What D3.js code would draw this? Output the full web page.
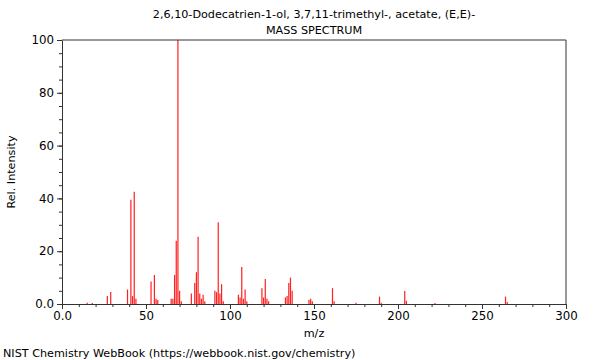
<!DOCTYPE html>
<html><head><meta charset="utf-8">
<script src="https://cdn.jsdelivr.net/npm/d3@7"></script>
<style>
body{margin:0;background:#fff;}
svg{display:block;font-family:"DejaVu Sans",sans-serif;}
</style></head>
<body><svg id="c" width="600" height="360"></svg>
<script>
const titleLines = ["2,6,10-Dodecatrien-1-ol, 3,7,11-trimethyl-, acetate, (E,E)-", "MASS SPECTRUM"];
const mzValues = [15,18,27,29,39,41,42,43,44,53,55,56,57,65,66,67,68,69,70,71,77,79,80,81,82,83,84,85,91,92,93,94,95,96,105,106,107,108,109,110,119,120,121,122,123,133,134,135,136,137,147,148,149,161,162,175,189,190,204,205,222,264,265];
const intensities = [0.5,0.4,3,4.5,5.5,39.5,3,42.5,2,8.5,11,2,1.5,2,2,11,24,100,5,1,4,8,12,25.5,4,2,3.5,1,5,4.5,31,4,7.5,1,3.5,2.5,14,2,5.5,1,6,2.5,9.5,2,1,2.5,3,8,10,5,1.5,2,1,6,1,0.5,2.8,0.5,4.9,1.2,0.4,2.8,0.8];
const xTicks = [0,50,100,150,200,250,300];
const yTicks = [0,20,40,60,80,100];

const svg = d3.select("#c");
const m = {l:62, r:566, t:40, b:304};
const x = d3.scaleLinear().domain([0,300]).range([m.l, m.r]);
const y = d3.scaleLinear().domain([0,100]).range([m.b, m.t]);

// peaks
svg.append("g").selectAll("line").data(mzValues).join("line")
  .attr("x1", d=>x(d)).attr("x2", d=>x(d))
  .attr("y1", y(0)).attr("y2", (d,i)=>y(intensities[i]))
  .attr("stroke", "#ff2020").attr("stroke-width", 1.2);

// frame
svg.append("path").attr("d", `M${m.l},${m.t}H${m.r}V${m.b}`).attr("fill","none").attr("stroke","#333").attr("stroke-width",1);

// axes
const fmt = d => d===0 ? "0.0" : String(d);
svg.append("g").attr("transform",`translate(0,${m.b})`)
  .call(d3.axisBottom(x).tickValues(xTicks).tickFormat(fmt).tickSize(5).tickSizeOuter(0));
svg.append("g").attr("transform",`translate(0,${m.b})`)
  .call(d3.axisBottom(x).tickValues(d3.range(0,301,10)).tickFormat("").tickSize(3).tickSizeOuter(0))
  .select(".domain").remove();
svg.append("g").attr("transform",`translate(${m.l},0)`)
  .call(d3.axisLeft(y).tickValues(yTicks).tickFormat(fmt).tickSize(5).tickSizeOuter(0));
svg.append("g").attr("transform",`translate(${m.l},0)`)
  .call(d3.axisLeft(y).tickValues(d3.range(0,101,5)).tickFormat("").tickSize(3).tickSizeOuter(0))
  .select(".domain").remove();
svg.selectAll(".domain").attr("stroke","#333");
svg.selectAll(".tick line").attr("stroke","#333");
svg.selectAll(".tick text").attr("font-size",11.8).attr("fill","#000").attr("font-family","DejaVu Sans");

// titles
svg.selectAll(".title").data(titleLines).join("text").attr("class","title")
  .attr("x", (m.l+m.r)/2).attr("y",(d,i)=>18+i*16).attr("text-anchor","middle")
  .attr("font-size",11.2).text(d=>d);
svg.append("text").attr("x",(m.l+m.r)/2).attr("y",337).attr("text-anchor","middle").attr("font-size",11.2).text("m/z");
svg.append("text").attr("transform",`translate(15,${(m.t+m.b)/2}) rotate(-90)`).attr("text-anchor","middle").attr("font-size",11.2).text("Rel. Intensity");
svg.append("text").attr("x",3).attr("y",357).attr("font-size",11.2).text("NIST Chemistry WebBook (https://webbook.nist.gov/chemistry)");
</script></body></html>
